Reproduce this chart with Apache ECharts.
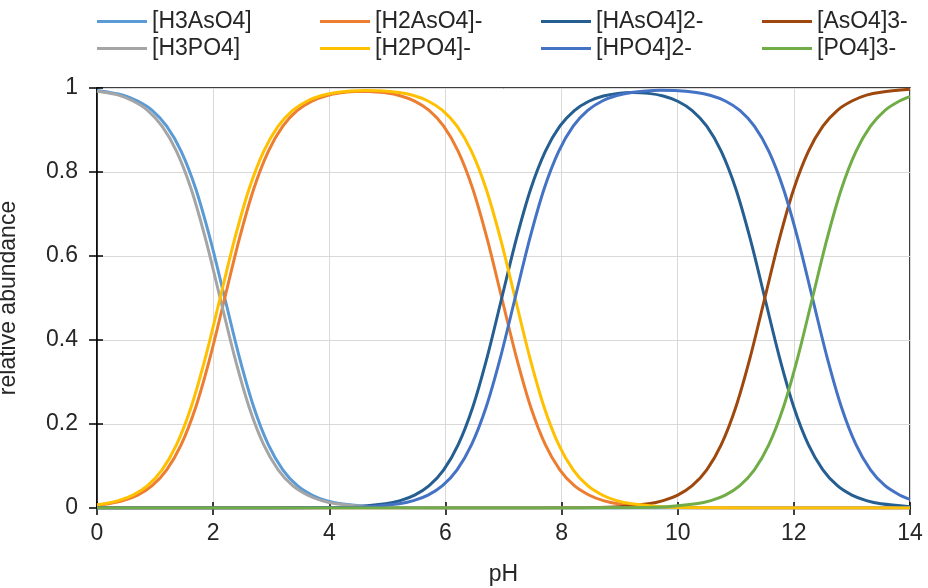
<!DOCTYPE html>
<html>
<head>
<meta charset="utf-8">
<script src="https://cdn.jsdelivr.net/npm/echarts@6/dist/echarts.min.js"></script>
<style>html,body{margin:0;padding:0;background:#fff;}#c{width:928px;height:588px;}</style>
</head>
<body>
<div id="c"></div>
<script>
const names = ['[H3AsO4]','[H2AsO4]-','[HAsO4]2-','[AsO4]3-','[H3PO4]','[H2PO4]-','[HPO4]2-','[PO4]3-'];
const colors = ['#5B9BD5','#ED7D31','#255E91','#9E480E','#A5A5A5','#FFC000','#4472C4','#70AD47'];
const xTicks = [0,2,4,6,8,10,12,14];
const yTicks = [0,0.2,0.4,0.6,0.8,1];

const pH_H3AsO4 = [0,0.2,0.45,0.7,0.95,1.2,1.45,1.7,1.95,2.2,2.45,2.7,2.95,3.2,3.45,3.7,3.95,4.2,4.7,5.2,6.2,8,14];
const H3AsO4 = [0.994,0.990,0.983,0.969,0.947,0.909,0.849,0.760,0.640,0.500,0.360,0.240,0.151,0.091,0.053,0.031,0.0175,0.0099,0.0032,0.001,0.0001,0,0];

const pH_H2AsO4 = [0,0.2,0.45,0.7,0.95,1.2,1.45,1.7,1.95,2.2,2.45,2.7,2.95,3.2,3.45,3.7,3.95,4.2,4.45,4.6,4.7,4.97,5.22,5.47,5.72,5.97,6.22,6.47,6.72,6.97,7.22,7.47,7.72,7.97,8.22,8.47,8.72,8.97,9.47,9.97,11,14];
const H2AsO4 = [0.0063,0.0099,0.0175,0.0307,0.0532,0.0909,0.151,0.240,0.360,0.500,0.640,0.760,0.849,0.909,0.9465,0.9689,0.9816,0.9884,0.9914,0.9918,0.9915,0.9884,0.9816,0.9688,0.9465,0.909,0.849,0.760,0.640,0.500,0.360,0.240,0.151,0.091,0.053,0.031,0.0175,0.0099,0.0032,0.001,0.0001,0];

const pH_HAsO4 = [0,2.97,3.97,4.47,4.97,5.22,5.47,5.72,5.97,6.22,6.47,6.72,6.97,7.22,7.47,7.72,7.97,8.22,8.47,8.72,8.97,9.22,9.5,9.75,10,10.25,10.5,10.75,11,11.25,11.5,11.75,12,12.25,12.5,12.75,13,13.25,13.5,14];
const HAsO4 = [0,0.0001,0.001,0.0032,0.0099,0.0175,0.0307,0.0532,0.0909,0.151,0.240,0.360,0.500,0.640,0.760,0.849,0.909,0.9463,0.9685,0.9809,0.9872,0.9892,0.9872,0.9809,0.9685,0.9463,0.909,0.849,0.760,0.640,0.500,0.360,0.240,0.151,0.091,0.053,0.0307,0.0175,0.0099,0.0032];

const pH_AsO4 = [0,7.5,8.5,9,9.5,9.75,10,10.25,10.5,10.75,11,11.25,11.5,11.75,12,12.25,12.5,12.75,13,13.25,13.5,14];
const AsO4 = [0,0.0001,0.001,0.0032,0.0099,0.0175,0.0307,0.0532,0.0909,0.151,0.240,0.360,0.500,0.640,0.760,0.849,0.909,0.947,0.969,0.983,0.990,0.997];

const pH_H3PO4 = [0,0.12,0.37,0.62,0.87,1.12,1.37,1.62,1.87,2.12,2.37,2.62,2.87,3.12,3.37,3.62,3.87,4.12,4.62,5.12,6.12,8,14];
const H3PO4 = [0.9925,0.990,0.983,0.969,0.947,0.909,0.849,0.760,0.640,0.500,0.360,0.240,0.151,0.091,0.053,0.031,0.0175,0.0099,0.0032,0.001,0.0001,0,0];

const pH_H2PO4 = [0,0.12,0.37,0.62,0.87,1.12,1.37,1.62,1.87,2.12,2.37,2.62,2.87,3.12,3.37,3.62,3.87,4.12,4.37,4.62,4.87,5.2,5.45,5.7,5.95,6.2,6.45,6.7,6.95,7.2,7.45,7.7,7.95,8.2,8.45,8.7,8.95,9.2,9.7,10.2,11.2,14];
const H2PO4 = [0.0075,0.0099,0.0175,0.0307,0.0532,0.0909,0.151,0.240,0.360,0.500,0.640,0.760,0.849,0.909,0.9467,0.9691,0.9821,0.9893,0.9930,0.9942,0.9936,0.9893,0.9821,0.9691,0.9467,0.909,0.849,0.760,0.640,0.500,0.360,0.240,0.151,0.091,0.053,0.031,0.0175,0.0099,0.0032,0.001,0.0001,0];

const pH_HPO4 = [0,3.2,4.2,4.7,5.2,5.45,5.7,5.95,6.2,6.45,6.7,6.95,7.2,7.45,7.7,7.95,8.2,8.45,8.7,8.95,9.2,9.45,9.7,9.95,10.32,10.57,10.82,11.07,11.32,11.57,11.82,12.07,12.32,12.57,12.82,13.07,13.32,13.57,13.82,14];
const HPO4 = [0,0.0001,0.001,0.0032,0.0099,0.0175,0.0307,0.0532,0.0909,0.151,0.240,0.360,0.500,0.640,0.760,0.849,0.909,0.9466,0.9691,0.9821,0.9894,0.9931,0.9945,0.9940,0.9894,0.9821,0.9691,0.9466,0.909,0.849,0.760,0.640,0.500,0.360,0.240,0.151,0.091,0.053,0.031,0.0205];

const pH_PO4 = [0,8.32,9.32,9.82,10.32,10.57,10.82,11.07,11.32,11.57,11.82,12.07,12.32,12.57,12.82,13.07,13.32,13.57,13.82,14];
const PO4 = [0,0.0001,0.001,0.0032,0.0099,0.0175,0.0307,0.0532,0.0909,0.151,0.240,0.360,0.500,0.640,0.760,0.849,0.909,0.947,0.969,0.9795];

const xs = [pH_H3AsO4,pH_H2AsO4,pH_HAsO4,pH_AsO4,pH_H3PO4,pH_H2PO4,pH_HPO4,pH_PO4];
const ys = [H3AsO4,H2AsO4,HAsO4,AsO4,H3PO4,H2PO4,HPO4,PO4];

const FONT = 'Liberation Sans';
const TXT = '#262626';
const FS = 23;

const legendLeft = [97,320,541,762];
const legendTop = [10,37];
const legends = names.map((n,i)=>({
  show: true,
  left: legendLeft[i%4],
  top: legendTop[Math.floor(i/4)],
  padding: 0,
  icon: 'rect',
  itemWidth: 50,
  itemHeight: 3,
  itemGap: 5,
  data: [n],
  textStyle: {fontFamily: FONT, fontSize: FS, color: TXT, padding:[0,0,0,0]}
}));

const series = names.map((n,i)=>({
  name: n,
  type: 'line',
  data: xs[i].map((x,j)=>[x, ys[i][j]]),
  smooth: 0.3,
  showSymbol: false,
  symbol: 'none',
  lineStyle: {color: colors[i], width: 3},
  itemStyle: {color: colors[i]},
  emphasis: {disabled: true},
  animation: false
}));

const chart = echarts.init(document.getElementById('c'), null, {renderer:'canvas'});
chart.setOption({
  animation: false,
  backgroundColor: '#fff',
  legend: legends,
  grid: {left: 97, right: 18, top: 88, bottom: 80, containLabel: false, outerBoundsMode: 'none',
         show: true, borderColor: '#000', borderWidth: 1.5, backgroundColor: 'transparent'},
  xAxis: [
    {type: 'value', min: xTicks[0], max: xTicks[xTicks.length-1], interval: 2, position: 'bottom',
     name: 'pH', nameLocation: 'middle', nameGap: 55,
     nameTextStyle: {fontFamily: FONT, fontSize: FS, color: TXT},
     axisLine: {show: true, lineStyle: {color: '#000', width: 1.5}},
     axisTick: {show: true, inside: false, length: 7, lineStyle: {color: '#000', width: 1.5}},
     axisLabel: {fontFamily: FONT, fontSize: FS, color: TXT, margin: 14},
     splitLine: {show: true, lineStyle: {color: '#d9d9d9', width: 1}}},
    {type: 'value', min: 0, max: 14, interval: 2, position: 'bottom',
     axisLine: {show: false}, axisLabel: {show: false}, splitLine: {show: false},
     axisTick: {show: true, inside: true, length: 6, lineStyle: {color: '#000', width: 1.5}}}
  ],
  yAxis: [
    {type: 'value', min: yTicks[0], max: yTicks[yTicks.length-1], interval: 0.2, position: 'left',
     name: 'relative abundance', nameLocation: 'middle', nameGap: 77,
     nameTextStyle: {fontFamily: FONT, fontSize: FS, color: TXT},
     axisLine: {show: true, lineStyle: {color: '#000', width: 1.5}},
     axisTick: {show: true, inside: false, length: 8, lineStyle: {color: '#000', width: 1.5}},
     axisLabel: {fontFamily: FONT, fontSize: FS, color: TXT, margin: 19, formatter: v => String(Math.round(v*10)/10)},
     splitLine: {show: true, lineStyle: {color: '#d9d9d9', width: 1}}},
    {type: 'value', min: 0, max: 1, interval: 0.2, position: 'left',
     axisLine: {show: false}, axisLabel: {show: false}, splitLine: {show: false},
     axisTick: {show: true, inside: true, length: 6, lineStyle: {color: '#000', width: 1.5}}}
  ],
  series: series
});
</script>
</body>
</html>
